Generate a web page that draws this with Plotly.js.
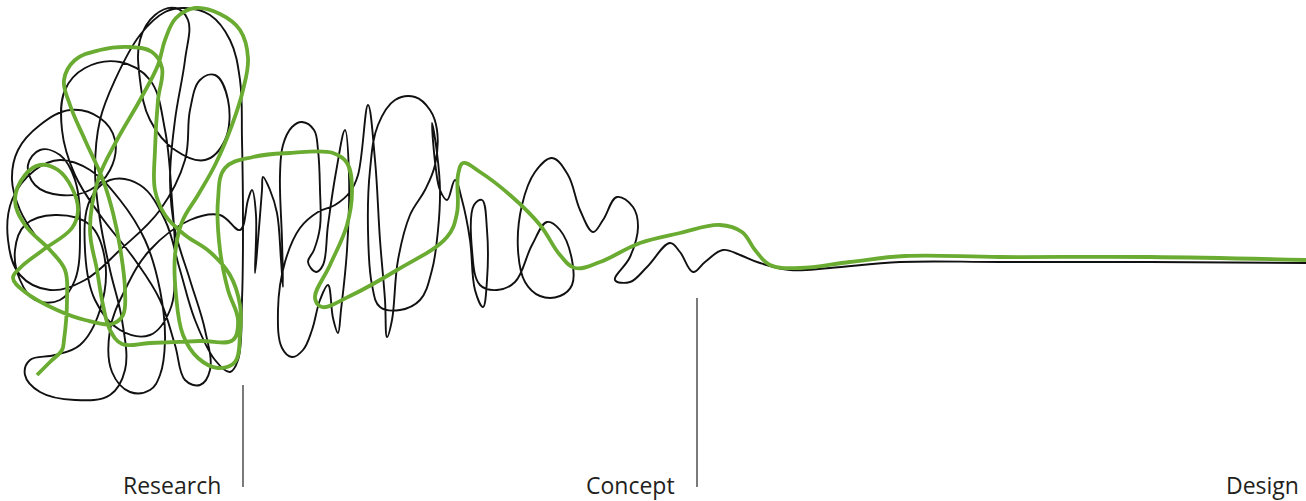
<!DOCTYPE html>
<html>
<head>
<meta charset="utf-8">
<script src="https://cdn.plot.ly/plotly-3.0.1.min.js"></script>
<style>
  html, body { margin: 0; padding: 0; background: #ffffff; }
  #chart { width: 1306px; height: 501px; }
</style>
</head>
<body>
<div id="chart"></div>
<script>
// ---- Data (horizontal position, vertical position with 0 at top) ----
const blackX = [
  35,20,12,18,40,70,100,115,110,90,60,35,28,40,60,75,80,75,60,35,20,15,25,55,90,105,100,80,55,30,25,40,75,110,125,122,110,100,95,100,115,140,165,185,210,230,240,242,243,242,238,230,215,195,180,165,140,110,90,85,95,120,150,170,175,172,165,150,120,85,65,62,75,100,135,160,175,185,200,210,205,190,175,170,175,185,188,175,155,140,140,150,175,205,225,228,215,200,190,185,160,120,85,50,20,8,12,35,60,90,120,145,160,165,160,150,130,112,110,125,150,190,220,240,
  248,252,256,255,258,262,263,270,277,281,283,282,280,283,292,302,314,318,320,320,314,308,316,323,328,336,345,349,347,341,338,333,328,320,312,303,292,282,278,285,300,318,335,350,358,368,375,380,385,387,392,398,410,425,435,437,430,415,395,378,370,368,372,380,400,420,432,438,440,437,432,436,440,447,455,462,470,475,483,487,487,482,474,472,480,497,515,532,547,560,572,572,560,540,525,518,522,535,552,568,580,593,603,617,633,638,630,615,630,647,670,680,693,705,723,740,760,790,830,900,1000,1150,1306
];
const blackY = [
  235,210,180,150,125,110,118,140,170,190,195,185,165,150,155,180,230,280,300,300,280,250,225,215,225,260,310,345,355,360,375,392,400,395,370,320,270,220,170,120,80,35,12,8,15,40,80,140,220,300,360,372,360,320,270,220,185,180,200,250,300,330,335,310,260,200,130,80,62,68,90,130,175,215,260,300,345,380,385,370,330,280,230,180,120,60,20,8,15,40,80,120,150,160,140,100,75,80,110,160,210,250,280,290,275,240,200,170,160,170,200,240,290,340,375,390,392,372,330,290,250,220,215,230,
  200,190,215,273,240,190,177,190,213,260,287,240,175,145,127,122,130,150,190,227,250,262,272,265,225,172,130,175,250,310,333,318,285,300,330,350,357,348,310,262,228,212,205,192,175,105,160,240,300,337,320,260,215,190,165,130,110,97,100,125,170,230,285,307,310,300,270,230,190,153,123,170,190,200,180,200,240,290,307,280,230,200,205,250,285,290,282,245,222,230,260,285,296,296,282,250,205,172,158,175,210,232,220,197,207,227,257,280,282,267,243,252,272,262,250,255,263,270,268,262,262,262,263
];
const greenX = [
  37,50,62,64,67,65,50,25,15,25,40,58,72,78,72,43,20,13,25,57,85,112,123,125,120,113,103,85,70,64,75,100,130,152,162,158,155,155,165,185,210,230,240,240,235,218,198,183,176,175,182,198,215,232,243,248,240,220,195,176,165,158,140,117,98,90,97,103,110,122,150,200,233,238,228,220,218,225,253,290,333,347,352,347,330,315,322,350,397,447,457,458,463,480,510,540,560,575,600,640,680,720,742,755,770,800,850,905,1000,1150,1306
];
const greenY = [
  375,362,350,340,300,270,250,225,200,175,165,170,188,210,228,250,268,278,292,310,320,324,315,290,247,213,180,140,105,80,60,50,47,52,68,100,150,190,215,235,252,275,305,335,362,368,358,335,295,255,222,195,165,125,90,58,30,14,8,18,40,65,100,140,180,230,270,305,330,344,343,341,340,320,290,250,200,168,157,153,153,163,190,225,265,298,307,296,270,237,213,175,163,172,195,225,255,268,262,243,233,225,232,250,265,268,262,256,257,257,260
];
const stageNames = ['Research', 'Concept', 'Design'];
const stageLabelX = [223, 677, 1301];
const stageLabelY = [485, 485, 485];
const dividerX = [243, 697];
const dividerTop = [385, 298];
const dividerBottom = [487, 487];

// ---- Traces ----
const traces = [];
traces.push({
  x: blackX, y: blackY, type: 'scatter', mode: 'lines',
  line: { color: '#111111', width: 1.9, shape: 'spline', smoothing: 1.1 },
  hoverinfo: 'skip', showlegend: false
});
traces.push({
  x: greenX, y: greenY, type: 'scatter', mode: 'lines',
  line: { color: '#6aab32', width: 3.8, shape: 'spline', smoothing: 1.1 },
  hoverinfo: 'skip', showlegend: false
});
dividerX.forEach((dx, i) => {
  traces.push({
    x: [dx, dx], y: [dividerTop[i], dividerBottom[i]], type: 'scatter', mode: 'lines',
    line: { color: '#333333', width: 1.3 }, hoverinfo: 'skip', showlegend: false
  });
});

const annotations = stageNames.map((t, i) => ({
  text: t, x: stageLabelX[i], y: stageLabelY[i], xref: 'x', yref: 'y',
  xanchor: 'right', yanchor: 'middle', showarrow: false,
  font: { family: 'Open Sans, sans-serif', size: 23, color: '#231f20' }
}));

const layout = {
  width: 1306, height: 501,
  margin: { l: 0, r: 0, t: 0, b: 0, pad: 0 },
  paper_bgcolor: '#ffffff', plot_bgcolor: '#ffffff',
  xaxis: { range: [0, 1306], visible: false, fixedrange: true },
  yaxis: { range: [501, 0], visible: false, fixedrange: true },
  annotations: annotations,
  showlegend: false
};

Plotly.newPlot('chart', traces, layout, { displayModeBar: false, staticPlot: true });
</script>
</body>
</html>
